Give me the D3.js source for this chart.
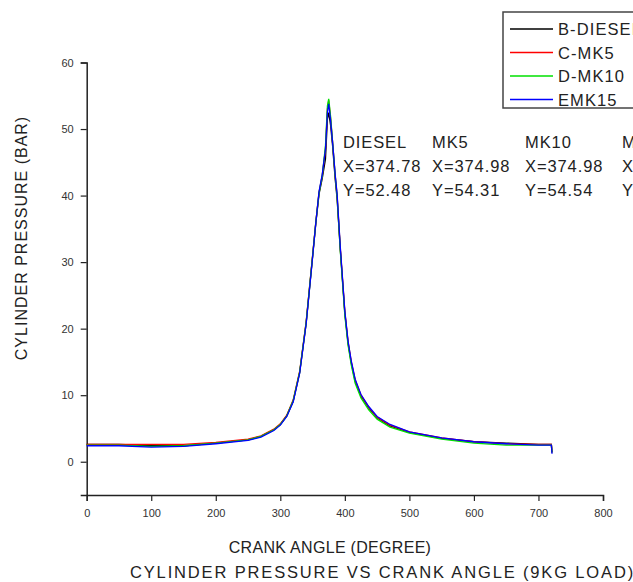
<!DOCTYPE html>
<html>
<head>
<meta charset="utf-8">
<script src="https://cdn.jsdelivr.net/npm/d3@7"></script>
<style>
  body { margin: 0; background: #fff; }
  text { font-family: "Liberation Sans", Arial, sans-serif; }
</style>
</head>
<body>
<div id="chart"></div>
<script>
// Datos del gráfico
const crankAngle = [0, 50, 100, 150, 200, 250, 270, 290, 300, 310, 320, 330, 340, 350, 355, 360, 365, 370, 373, 375, 378, 381, 385, 388, 393, 400, 405, 410, 416, 425, 437, 450, 470, 500, 550, 600, 650, 700, 720, 721];
const diesel = [2.6, 2.6, 2.4, 2.4, 2.8, 3.3, 3.8, 4.8, 5.6, 6.9, 9.1, 13.4, 20.8, 30.8, 35.8, 40.2, 42.6, 45.5, 51.5, 52.48, 50.5, 47.5, 42.5, 39.5, 31.8, 22.3, 17.8, 14.8, 12.1, 9.9, 8.1, 6.6, 5.4, 4.4, 3.5, 3.0, 2.8, 2.6, 2.6, 1.4];
const mk5 = [2.6, 2.6, 2.6, 2.6, 2.9, 3.4, 3.9, 4.9, 5.7, 7.0, 9.3, 13.6, 21.0, 31.0, 36.0, 40.5, 43.0, 47.0, 53.0, 54.31, 51.5, 48.0, 43.0, 40.0, 32.0, 22.5, 18.0, 15.0, 12.3, 10.0, 8.2, 6.7, 5.5, 4.5, 3.6, 3.0, 2.7, 2.6, 2.6, 1.4];
const mk10 = [2.5, 2.5, 2.3, 2.4, 2.8, 3.3, 3.8, 4.8, 5.6, 6.9, 9.2, 13.5, 20.9, 30.9, 36.0, 40.4, 43.0, 47.5, 53.5, 54.54, 51.8, 48.0, 43.0, 39.8, 31.6, 22.0, 17.5, 14.5, 11.8, 9.6, 7.8, 6.4, 5.2, 4.3, 3.4, 2.8, 2.5, 2.5, 2.5, 1.4];
const mk15 = [2.4, 2.4, 2.2, 2.3, 2.7, 3.2, 3.7, 4.7, 5.5, 6.8, 9.0, 13.3, 20.7, 30.7, 35.9, 40.6, 43.2, 47.0, 52.5, 53.8, 51.2, 48.0, 43.2, 40.2, 32.2, 22.6, 18.1, 15.1, 12.4, 10.1, 8.3, 6.8, 5.6, 4.5, 3.6, 3.0, 2.7, 2.5, 2.5, 1.2];

const seriesNames = ["B-DIESEL", "C-MK5", "D-MK10", "EMK15"];
const seriesColors = ["#000000", "#ff0000", "#00e000", "#0000ff"];
const seriesValues = [diesel, mk5, mk10, mk15];

const annotHeads = ["DIESEL", "MK5", "MK10", "MK15"];
const annotX = ["X=374.78", "X=374.98", "X=374.98", "X=375.18"];
const annotY = ["Y=52.48", "Y=54.31", "Y=54.54", "Y=53.80"];

// Configuración del tamaño
const width = 633;
const height = 582;
const margin = { top: 62.5, right: 30, bottom: 87, left: 86.7 };

const svg = d3.select("#chart")
    .append("svg")
    .attr("width", width)
    .attr("height", height);

const x = d3.scaleLinear().domain([0, 800]).range([margin.left, width - margin.right]);
const y = d3.scaleLinear().domain([-5, 60]).range([height - margin.bottom, margin.top]);

// Ejes con marcas menores
function drawXAxis() {
    const g = svg.append("g").attr("transform", `translate(0,${y(-5)})`);
    g.call(d3.axisBottom(x).tickValues(d3.range(0, 801, 50)).tickSize(3).tickFormat(""));
    g.call(d3.axisBottom(x).tickValues(d3.range(0, 801, 100)).tickSize(6).tickPadding(8))
    g.selectAll("path.domain").attr("stroke", "#222").attr("stroke-width", 1.5);
    g.selectAll("line").attr("stroke", "#222").attr("stroke-width", 1.2);
    g.selectAll("text").attr("font-size", 11).attr("fill", "#333");
}
function drawYAxis() {
    const g = svg.append("g").attr("transform", `translate(${x(0)},0)`);
    g.call(d3.axisLeft(y).tickValues(d3.range(-5, 61, 5)).tickSize(3).tickFormat(""));
    g.call(d3.axisLeft(y).tickValues(d3.range(0, 61, 10)).tickSize(6).tickPadding(7));
    g.selectAll("path.domain").attr("stroke", "#222").attr("stroke-width", 1.5);
    g.selectAll("line").attr("stroke", "#222").attr("stroke-width", 1.2);
    g.selectAll("text").attr("font-size", 11).attr("fill", "#333");
}
drawXAxis();
drawYAxis();

// Líneas de las series
const line = d3.line()
    .x((d, i) => x(crankAngle[i]))
    .y(d => y(d));

seriesValues.forEach((vals, k) => {
    svg.append("path")
        .datum(vals)
        .attr("fill", "none")
        .attr("stroke", seriesColors[k])
        .attr("stroke-width", 1.3)
        .attr("d", line);
});

// Anotaciones de picos
const annotCols = [343, 432, 525, 622];
annotHeads.forEach((h, i) => {
    const g = svg.append("g").attr("font-size", 16.5).attr("letter-spacing", 0.9).attr("fill", "#222");
    g.append("text").attr("x", annotCols[i]).attr("y", 148).text(h);
    g.append("text").attr("x", annotCols[i]).attr("y", 172).text(annotX[i]);
    g.append("text").attr("x", annotCols[i]).attr("y", 196).text(annotY[i]);
});

// Leyenda
const legend = svg.append("g");
legend.append("rect")
    .attr("x", 503).attr("y", 12)
    .attr("width", 160).attr("height", 96)
    .attr("fill", "#fff").attr("stroke", "#444").attr("stroke-width", 1.5);
seriesNames.forEach((n, i) => {
    const yy = 29 + i * 23.5;
    legend.append("line")
        .attr("x1", 510).attr("x2", 553)
        .attr("y1", yy).attr("y2", yy)
        .attr("stroke", seriesColors[i]).attr("stroke-width", 1.3);
    legend.append("text")
        .attr("x", 558).attr("y", yy + 6)
        .attr("font-size", 16.5).attr("letter-spacing", 1.1).attr("fill", "#222")
        .text(n);
});

// Títulos
svg.append("text")
    .attr("x", 330).attr("y", 553)
    .attr("text-anchor", "middle")
    .attr("font-size", 16).attr("letter-spacing", 0.3).attr("fill", "#222")
    .text("CRANK ANGLE (DEGREE)");

svg.append("text")
    .attr("x", 130).attr("y", 578)
    .attr("font-size", 16.5).attr("letter-spacing", 1.85).attr("fill", "#222")
    .text("CYLINDER PRESSURE VS CRANK ANGLE (9KG LOAD)");

svg.append("text")
    .attr("transform", `translate(27,238) rotate(-90)`)
    .attr("text-anchor", "middle")
    .attr("font-size", 16).attr("letter-spacing", 1).attr("fill", "#222")
    .text("CYLINDER PRESSURE (BAR)");
</script>
</body>
</html>
